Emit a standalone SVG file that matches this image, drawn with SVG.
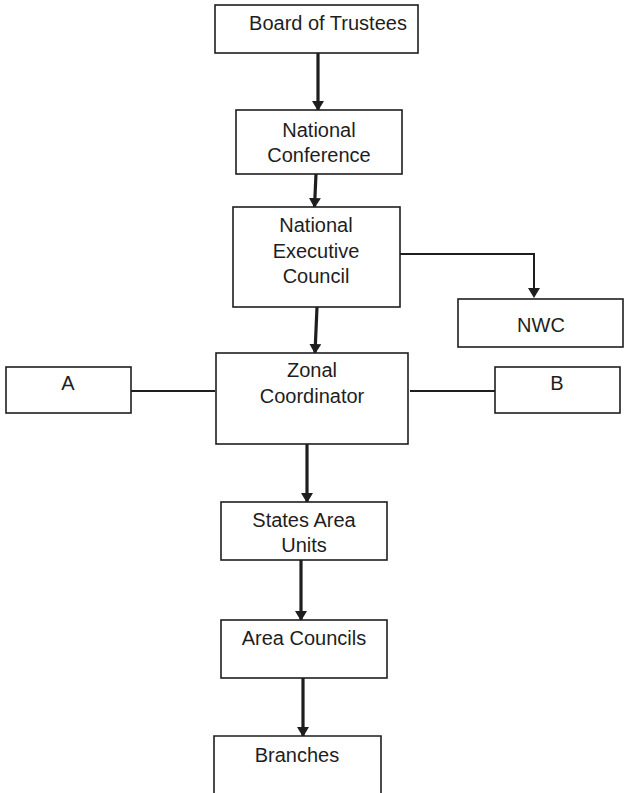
<svg xmlns="http://www.w3.org/2000/svg" width="624" height="793" viewBox="0 0 624 793">
<style>
.box{fill:#fff;stroke:#1e1e1e;stroke-width:1.6}
.t{font-family:"Liberation Sans",Arial,sans-serif;font-size:20px;fill:#1e1e1e;text-anchor:middle}
.arr{stroke:#1e1e1e;stroke-width:3.2;fill:none;marker-end:url(#ah)}
.thin{stroke:#1e1e1e;stroke-width:2;fill:none}
</style>
<defs>
<marker id="ah" markerUnits="userSpaceOnUse" viewBox="0 0 10 12" refX="9" refY="6" markerWidth="10" markerHeight="12" orient="auto">
<path d="M0,0 L10,6 L0,12 z" fill="#1e1e1e"/>
</marker>
</defs>
<rect width="624" height="793" fill="#fff"/>
<g id="connectors">
<line class="arr" x1="318" y1="53" x2="318" y2="110"/>
<line class="arr" x1="316" y1="174" x2="314.5" y2="207"/>
<polyline class="thin" points="400,254 534,254 534,288"/>
<path d="M528,288 L540,288 L534,298 z" fill="#1e1e1e"/>
<line class="arr" x1="317" y1="307" x2="315" y2="353"/>
<line class="thin" x1="131" y1="391" x2="215" y2="391"/>
<line class="thin" x1="410" y1="391" x2="495" y2="391"/>
<line class="arr" x1="307" y1="444" x2="307" y2="502"/>
<line class="arr" x1="301" y1="560" x2="301" y2="620"/>
<line class="arr" x1="303" y1="678" x2="303" y2="736"/>
</g>
<g id="board">
<rect class="box" x="215" y="5" width="203" height="48"/>
<text class="t" x="328" y="30">Board of Trustees</text>
</g>
<g id="national-conference">
<rect class="box" x="236" y="110" width="166" height="64"/>
<text class="t" x="319" y="137">National</text>
<text class="t" x="319" y="162">Conference</text>
</g>
<g id="nec">
<rect class="box" x="233" y="207" width="167" height="100"/>
<text class="t" x="316" y="232">National</text>
<text class="t" x="316" y="258">Executive</text>
<text class="t" x="316" y="283">Council</text>
</g>
<g id="nwc">
<rect class="box" x="458" y="299" width="165" height="48"/>
<text class="t" x="541" y="332">NWC</text>
</g>
<g id="zonal">
<rect class="box" x="216" y="353" width="192" height="91"/>
<text class="t" x="312" y="377">Zonal</text>
<text class="t" x="312" y="403">Coordinator</text>
</g>
<g id="a">
<rect class="box" x="6" y="367" width="125" height="46"/>
<text class="t" x="68" y="390">A</text>
</g>
<g id="b">
<rect class="box" x="495" y="367" width="125" height="46"/>
<text class="t" x="557" y="390">B</text>
</g>
<g id="states">
<rect class="box" x="221" y="502" width="166" height="58"/>
<text class="t" x="304" y="527">States Area</text>
<text class="t" x="304" y="552">Units</text>
</g>
<g id="area-councils">
<rect class="box" x="221" y="620" width="166" height="58"/>
<text class="t" x="304" y="645">Area Councils</text>
</g>
<g id="branches">
<path class="box" d="M214,800 L214,736 L381,736 L381,800"/>
<text class="t" x="297" y="762">Branches</text>
</g>
</svg>
